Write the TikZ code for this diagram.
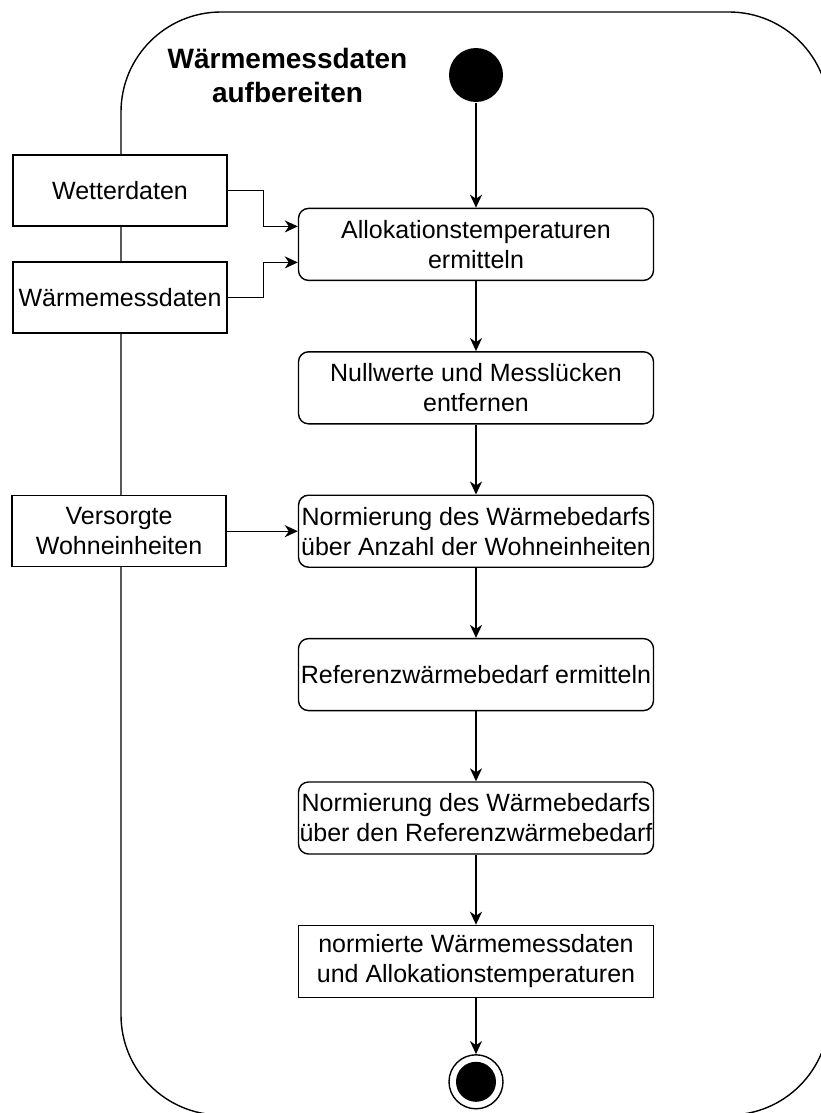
\documentclass[tikz,border=0pt]{standalone}
\usepackage{fontspec}
\setmainfont{Liberation Sans}
\usetikzlibrary{positioning,arrows.meta}

\newcommand{\boxfont}{\fontsize{25}{30}\selectfont}
\newcommand{\titlefont}{\fontsize{28}{34}\selectfont\bfseries}

\tikzset{
  action/.style={draw, fill=white, rounded corners=10pt, align=center,
    minimum width=355pt, minimum height=72pt, inner xsep=0pt, font=\boxfont},
  result/.style={action, rounded corners=0pt},
  objpin/.style={draw, fill=white, align=center,
    minimum width=214pt, minimum height=71pt, inner xsep=0pt, font=\boxfont},
  startnode/.style={circle, fill=black, minimum size=54pt, inner sep=0pt},
  endnode/.style={circle, draw, fill=white, minimum size=54pt, inner sep=0pt,
    path picture={\fill[black] (path picture bounding box.center) circle (20pt);}},
  flow/.style={-{Stealth[length=13pt,width=12pt,inset=4pt]}},
}

\begin{document}
\begin{tikzpicture}[x=1pt, y=-1pt, line width=1.4pt]
\useasboundingbox (0,0) rectangle (821,1113);
\clip (0,0) rectangle (821,1113);
% activity frame (runs past the page on the right and bottom)
\draw[rounded corners=100pt] (121,12) rectangle (829,1115);
\node[font=\titlefont, align=center] (title) at (287.5,75) {Wärmemessdaten\\aufbereiten};

% control flow
\node[startnode] (start) at (476,75) {};
\node[action, below=105pt of start] (allok) {Allokationstemperaturen\\ermitteln};
\node[action, below=70pt of allok] (nullw) {Nullwerte und Messlücken\\entfernen};
\node[action, below=70pt of nullw] (norm1) {Normierung des Wärmebedarfs\\über Anzahl der Wohneinheiten};
\node[action, below=70pt of norm1] (refwb) {Referenzwärmebedarf ermitteln};
\node[action, below=70pt of refwb] (norm2) {Normierung des Wärmebedarfs\\über den Referenzwärmebedarf};
\node[result, below=70pt of norm2] (normdat) {normierte Wärmemessdaten\\und Allokationstemperaturen};
\node[endnode, below=56pt of normdat] (final) {};

% input pins on the frame
\node[objpin] (wetter) at (120,190.5) {Wetterdaten};
\node[objpin] (wmess) at (120,297.5) {Wärmemessdaten};
\node[objpin, left=71pt of norm1] (wohn) {Versorgte\\Wohneinheiten};

\draw[flow] (start) -- (allok);
\draw[flow] (allok) -- (nullw);
\draw[flow] (nullw) -- (norm1);
\draw[flow] (norm1) -- (refwb);
\draw[flow] (refwb) -- (norm2);
\draw[flow] (norm2) -- (normdat);
\draw[flow] (normdat) -- (final);

\draw[flow] (wetter.east) -- ++(36,0) |- ([yshift=18pt]allok.west);
\draw[flow] (wmess.east) -- ++(36,0) |- ([yshift=-18pt]allok.west);
\draw[flow] (wohn) -- (norm1);
\end{tikzpicture}
\end{document}
